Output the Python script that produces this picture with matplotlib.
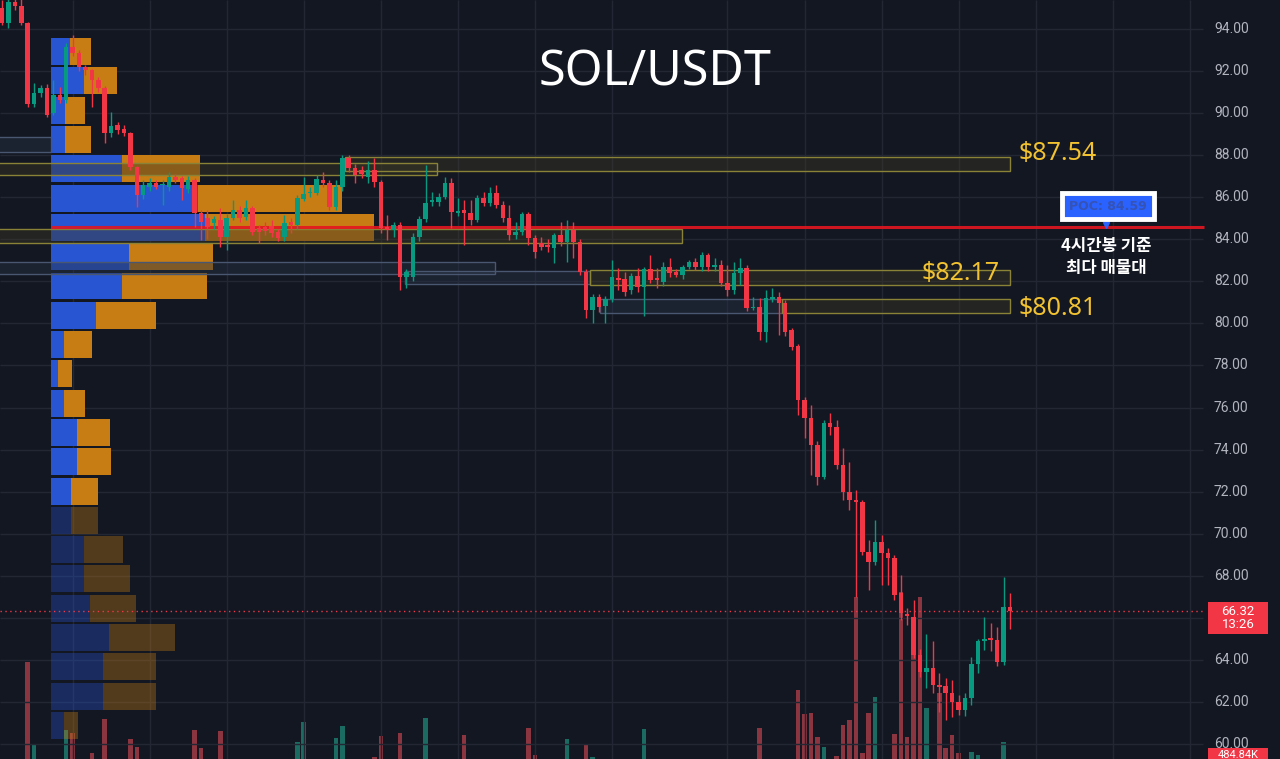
import matplotlib
matplotlib.use('Agg')
import matplotlib.pyplot as plt
from matplotlib.patches import Rectangle

# ---- candles (4h SOL/USDT) ----
opens = [95.0, 94.29, 95.3, 95.1, 94.29, 90.43, 90.96, 91.2, 90.0, 90.86,
         90.62, 93.14, 92.86, 92.19, 92.05, 91.57, 91.2, 89.05, 89.43, 89.24,
         89.05, 87.44, 86.11, 86.49, 86.68, 86.56, 86.49, 86.96, 86.9, 86.39,
         86.82, 85.25, 85.0, 84.77, 84.92, 84.11, 85.01, 85.39, 85.06, 85.49,
         84.54, 84.58, 84.63, 84.35, 84.11, 84.82, 84.68, 85.92, 86.2, 86.2,
         86.82, 86.68, 85.54, 86.49, 87.87, 87.39, 87.3, 86.96, 87.3, 86.72,
         84.58, 84.44, 84.68, 82.21, 82.21, 84.11, 84.97, 85.77, 85.77, 86.01,
         86.68, 85.25, 85.39, 85.25, 84.92, 85.96, 85.73, 86.2, 85.63, 85.01,
         84.2, 84.35, 85.2, 84.06, 83.82, 83.73, 83.59, 84.2, 83.87, 84.44,
         83.87, 82.44, 80.64, 81.26, 80.83, 81.16, 82.16, 82.11, 81.59, 82.25,
         81.73, 82.59, 82.16, 81.97, 82.68, 82.44, 82.3, 82.68, 82.92, 82.68,
         83.25, 82.68, 82.78, 81.92, 81.59, 82.4, 82.64, 80.73, 80.78, 79.59,
         81.16, 81.26, 80.97, 79.69, 78.93, 76.36, 75.5, 74.22, 72.7, 75.26,
         75.07, 73.27, 71.98, 71.6, 71.5, 69.13, 68.66, 69.61, 69.08, 68.85,
         67.18, 66.2, 66.04, 64.23, 63.42, 63.61, 62.8, 62.76, 62.42, 61.99,
         61.61, 62.18, 63.8, 64.9, 65.04, 64.95, 63.9, 66.51]
highs = [95.4, 95.5, 95.5, 95.5, 94.35, 91.43, 91.34, 91.4, 91.57, 91.24,
         93.33, 93.71, 93.0, 92.3, 92.1, 91.7, 91.3, 90.05, 89.6, 89.43,
         89.1, 87.5, 86.8, 86.9, 86.8, 86.82, 87.2, 87.1, 87.0, 87.0,
         86.9, 85.4, 85.4, 85.1, 85.49, 85.2, 85.87, 85.6, 85.87, 85.6,
         84.7, 84.8, 84.9, 84.5, 85.16, 85.0, 86.1, 86.96, 86.5, 87.06,
         87.2, 86.8, 86.82, 88.0, 88.0, 87.6, 87.5, 87.7, 87.87, 86.8,
         85.16, 84.82, 84.8, 82.6, 84.3, 85.1, 87.53, 86.25, 86.2, 86.96,
         86.9, 85.96, 85.87, 85.87, 86.1, 86.25, 86.49, 86.58, 85.8, 85.63,
         84.82, 85.3, 85.3, 84.2, 84.1, 84.0, 84.3, 84.82, 84.92, 84.82,
         84.0, 82.6, 81.4, 81.4, 81.3, 83.02, 82.64, 82.44, 82.4, 82.64,
         82.7, 83.25, 82.64, 82.92, 83.1, 82.6, 82.8, 83.0, 83.1, 83.4,
         83.35, 83.1, 83.0, 82.78, 82.92, 83.1, 82.8, 81.26, 81.2, 81.59,
         81.68, 81.49, 81.1, 79.8, 79.0, 76.5, 76.12, 74.4, 75.41, 75.74,
         75.41, 74.08, 73.4, 72.08, 71.6, 69.7, 70.65, 69.94, 69.3, 68.99,
         68.04, 66.47, 66.85, 64.5, 65.23, 64.9, 63.37, 63.13, 63.04, 62.33,
         62.42, 64.14, 65.0, 66.04, 65.75, 65.56, 67.94, 67.18]
lows = [94.19, 94.05, 94.9, 94.2, 90.29, 90.3, 90.77, 89.82, 89.9, 90.5,
        90.5, 92.7, 92.0, 91.8, 90.29, 91.0, 88.58, 88.86, 89.0, 88.9,
        87.3, 85.54, 85.9, 86.3, 86.4, 85.63, 86.3, 86.7, 85.87, 86.2,
        84.6, 83.97, 84.0, 84.5, 83.63, 83.5, 84.9, 84.8, 84.9, 84.2,
        83.82, 84.2, 84.1, 83.9, 83.9, 84.3, 84.5, 85.8, 86.0, 86.1,
        86.5, 85.4, 85.4, 86.3, 87.2, 86.68, 86.9, 86.7, 86.5, 84.3,
        83.97, 84.1, 81.59, 81.68, 82.0, 83.9, 84.8, 85.6, 85.6, 85.9,
        84.54, 85.1, 83.73, 84.7, 84.8, 85.6, 85.6, 85.5, 84.8, 83.97,
        84.0, 84.2, 83.73, 83.1, 83.5, 83.4, 82.87, 83.7, 82.92, 83.1,
        82.3, 80.26, 80.02, 80.54, 80.02, 81.0, 81.59, 81.3, 81.4, 81.5,
        80.35, 81.9, 81.68, 81.8, 82.2, 82.2, 82.1, 82.6, 82.54, 82.5,
        82.5, 82.5, 81.8, 81.3, 81.4, 81.83, 80.6, 80.64, 79.21, 79.12,
        81.0, 79.45, 79.4, 78.74, 75.65, 74.55, 72.79, 72.32, 72.6, 74.7,
        73.1, 71.6, 71.13, 67.0, 69.0, 67.32, 68.51, 67.56, 67.56, 66.85,
        65.9, 65.66, 64.1, 63.2, 62.66, 62.42, 61.52, 61.14, 61.28, 61.38,
        61.33, 61.85, 63.37, 64.47, 64.42, 63.7, 63.75, 65.47]
closes = [94.29, 95.3, 95.1, 94.29, 90.43, 90.96, 91.2, 89.91, 90.86, 90.62,
          93.14, 92.86, 92.19, 92.05, 91.57, 91.2, 89.05, 89.39, 89.2, 89.05,
          87.44, 86.11, 86.58, 86.68, 86.49, 86.6, 86.96, 86.82, 86.44, 86.82,
          85.25, 84.82, 84.58, 84.96, 84.11, 85.01, 85.39, 85.01, 85.49, 84.35,
          84.35, 84.39, 84.3, 84.06, 84.77, 84.68, 85.96, 86.15, 86.25, 86.87,
          86.68, 85.54, 86.49, 87.87, 87.39, 87.06, 87.1, 87.3, 86.72, 84.54,
          84.44, 84.68, 82.21, 82.44, 84.11, 84.97, 85.73, 85.87, 86.01, 86.68,
          85.3, 85.35, 85.25, 84.92, 85.96, 85.73, 86.2, 85.63, 85.01, 84.2,
          84.35, 85.2, 84.06, 83.4, 83.63, 83.63, 84.2, 83.87, 84.44, 83.87,
          82.44, 80.64, 81.26, 80.78, 81.16, 82.21, 82.06, 81.49, 82.25, 81.73,
          82.59, 82.06, 82.06, 82.68, 82.4, 82.3, 82.68, 82.92, 82.68, 83.25,
          82.68, 82.78, 81.92, 81.59, 82.4, 82.64, 80.73, 80.78, 79.59, 81.2,
          81.26, 80.97, 79.59, 78.88, 76.36, 75.5, 74.22, 72.7, 75.26, 75.07,
          73.27, 71.98, 71.6, 71.5, 69.13, 68.66, 69.61, 69.08, 68.85, 67.09,
          66.23, 66.1, 64.23, 63.42, 63.61, 62.8, 62.7, 62.42, 61.99, 61.61,
          62.18, 63.8, 64.9, 65.0, 64.95, 63.9, 66.51, 66.32]
# volume in K
volumes = [1500, 1800, 900, 1600, 11700, 3400, 1200, 1900, 1700, 900,
           4900, 4600, 1800, 1100, 2600, 1300, 6000, 1900, 1000, 800,
           4000, 3200, 1500, 900, 800, 1200, 1400, 700, 1300, 1100,
           4900, 3100, 1700, 1000, 4800, 1900, 1500, 900, 1300, 1800,
           1200, 800, 900, 1100, 1600, 800, 3700, 5700, 1200, 1800,
           1000, 1900, 4100, 5300, 1700, 1300, 800, 1000, 2200, 4300,
           1500, 900, 4600, 1800, 1900, 1400, 6100, 1000, 800, 1500,
           1900, 900, 4400, 1300, 1600, 800, 1200, 1400, 1100, 1800,
           900, 1500, 5100, 2400, 1000, 900, 1700, 1100, 4000, 1600,
           1900, 3500, 2200, 1300, 1400, 1900, 900, 1200, 1000, 1100,
           5000, 1300, 800, 1100, 900, 600, 800, 700, 800, 1000,
           1100, 700, 1600, 1400, 1200, 1000, 1900, 900, 5100, 1900,
           1100, 1500, 1900, 1700, 8900, 6500, 6600, 4200, 3200, 1500,
           2300, 5400, 5900, 18200, 2600, 6600, 8200, 1900, 1800, 4500,
           18700, 4200, 15900, 18200, 7100, 1900, 8600, 3100, 4400, 2600,
           1800, 2700, 2400, 1500, 1200, 1700, 3700, 484.84]

# ---- volume profile (rows from top to bottom) ----
profile_top = 93.62
profile_step = 1.393
profile_buy = [19, 33, 14, 14, 71, 147, 154, 78, 71, 45, 13, 7,
               13, 26, 26, 20, 20, 33, 33, 39, 58, 52, 52, 13]
profile_sell = [21, 33, 20, 26, 78, 144, 169, 84, 85, 60, 28, 14,
                21, 33, 34, 27, 27, 39, 46, 46, 66, 53, 53, 14]
profile_value_rows = 16  # rows inside the value area (bright)

# ---- zones: low, high, from candle, to candle, style ----
zone_lo = [87.25, 87.06, 88.15, 83.82, 82.35, 81.87, 81.83, 80.50, 80.50]
zone_hi = [87.91, 87.63, 88.86, 84.49, 82.92, 82.49, 82.54, 81.16, 81.16]
zone_from = [53.4, -1, -1, -1, -1, 62.8, 91.6, 93.2, 121.5]
zone_to = [157.0, 67.8, 7.6, 105.9, 76.8, 91.6, 157.0, 121.5, 157.0]
zone_kind = ['y', 'y', 'b', 'y', 'b', 'b', 'y', 'b', 'y']

level_text = ['$87.54', '$82.17', '$80.81']
level_y = [88.1, 82.35, 80.73]
level_x = [158.3, 143.3, 158.3]

poc_price = 84.59
last_price = 66.32
countdown = '13:26'
last_vol_text = '484.84K'
price_ticks = [60, 62, 64, 66, 68, 70, 72, 74, 76, 78, 80, 82, 84, 86, 88, 90, 92, 94]
time_grid = [11, 23, 35, 47, 59, 71, 83, 95, 113, 125, 137, 149, 161, 173, 185]

W, H = 1280, 759
X0, DX = 2.0, 6.42
BG = '#131722'
UP, DOWN = '#089981', '#f23645'


def ix(px):
    return (px - X0) / DX


fig = plt.figure(figsize=(12.8, 7.59), dpi=100, facecolor=BG)

# volume pane (base sits a little below the picture)
axv = fig.add_axes([0, 0, 1, 1])
axv.set_facecolor(BG)
axv.set_xlim(ix(0), ix(W))
axv.set_ylim(2000, 2000 + H * 100)
axv.axis('off')
vcol = ['#1c6b62' if c >= o else '#8a3540' for o, c in zip(opens, closes)]
axv.bar(range(len(volumes)), volumes, width=0.7, color=vcol, zorder=1)

ax = fig.add_axes([0, 0, 1, 1])
ax.set_facecolor('none')
ax.set_xlim(ix(0), ix(W))
ax.set_ylim(94 - (H - 29) / 21.03, 94 + 29 / 21.03)
ax.axis('off')

# grid
ax.hlines(price_ticks, ix(0), ix(1203), color='#232733', lw=1, zorder=0)
ax.vlines(time_grid, ax.get_ylim()[0], ax.get_ylim()[1], color='#232733', lw=1, zorder=0)

# volume profile
p_left = ix(51)
for r, (b, s) in enumerate(zip(profile_buy, profile_sell)):
    lo = profile_top - (r + 1) * profile_step
    a = 1.0 if r < profile_value_rows else 0.35
    h = profile_step * 0.92
    ax.barh(lo + profile_step * 0.5, b / DX, height=h, left=p_left,
            color='#2855d2', alpha=a, zorder=1)
    ax.barh(lo + profile_step * 0.5, s / DX, height=h, left=p_left + b / DX,
            color='#c87d14', alpha=a, zorder=1)

# zones
for lo, hi, x1, x2, k in zip(zone_lo, zone_hi, zone_from, zone_to, zone_kind):
    ec = '#8a8236' if k == 'y' else '#4a5770'
    fc = '#3a3826' if k == 'y' else '#263043'
    ax.add_patch(Rectangle((x1, lo), x2 - x1, hi - lo, facecolor=fc, alpha=0.45,
                           edgecolor='none', zorder=1.5))
    ax.add_patch(Rectangle((x1, lo), x2 - x1, hi - lo, facecolor='none',
                           edgecolor=ec, lw=1, zorder=1.6))

# POC line
ax.hlines(poc_price, p_left, ix(1204), color='#e3161f', lw=2.2, alpha=0.9, zorder=2)

# last price dotted line
ax.hlines(last_price, ix(0), ix(1205), color=DOWN, lw=1, linestyles=(0, (1, 2.5)), zorder=2)

# candles
for i, (o, h_, l, c) in enumerate(zip(opens, highs, lows, closes)):
    col = UP if c >= o else DOWN
    ax.vlines(i, l, h_, color=col, lw=1, zorder=3)
    body = max(abs(c - o), 0.06)
    ax.bar(i, body, bottom=min(o, c), width=0.7, color=col, zorder=3.1)

# level labels
for t, x, y in zip(level_text, level_x, level_y):
    ax.text(x, y, t, color='#f2c230', fontsize=18, family='Noto Sans',
            fontweight='semibold', ha='left', va='center', zorder=5)

# price axis labels (the one under the last-price badge is hidden, as on the chart)
for t in price_ticks:
    if abs(t - last_price) < 0.8:
        continue
    ax.text(ix(1214), t, f'{t:.2f}', color='#b2b5be', fontsize=10, family='Roboto',
            ha='left', va='center', zorder=5)

# title
fig.text(655 / W, 1 - 72 / H, 'SOL/USDT', color='white', fontsize=35,
         family='Noto Sans', fontweight='semibold', ha='center', va='center')

# POC badge
fig.text(1108 / W, 1 - 206 / H, f'POC: {poc_price:.2f}', color='#3552b5', fontsize=9,
         fontweight='bold', family='DejaVu Sans', ha='center', va='center',
         bbox=dict(boxstyle='square,pad=0.55', facecolor='#2962ff',
                   edgecolor='white', linewidth=3.5))
ax.plot(ix(1106), poc_price + 0.1, marker='v', color='#2962ff', markersize=4, zorder=5)
fig.text(1106 / W, 1 - 257 / H, '4시간봉 기준\n최다 매물대', color='white', fontsize=12,
         family=['Noto Sans CJK KR', 'DejaVu Sans'], fontweight='bold',
         ha='center', va='center', linespacing=1.25)

# last price badge
fig.add_artist(Rectangle((1208 / W, 1 - 634 / H), 60 / W, 32 / H, facecolor=DOWN,
                         edgecolor='none', transform=fig.transFigure))
fig.text(1238 / W, 1 - 618 / H, f'{last_price:.2f}\n{countdown}', color='white',
         fontsize=9.5, family='Roboto', ha='center', va='center', linespacing=1.05)

# last volume badge (at the bottom edge)
fig.add_artist(Rectangle((1208 / W, -12 / H), 60 / W, 23 / H, facecolor=DOWN,
                         edgecolor='none', transform=fig.transFigure))
fig.text(1238 / W, 1 - 755.5 / H, last_vol_text, color='white', fontsize=8,
         family='Roboto', ha='center', va='center')

fig.savefig('out.png', dpi=100, facecolor=BG)
